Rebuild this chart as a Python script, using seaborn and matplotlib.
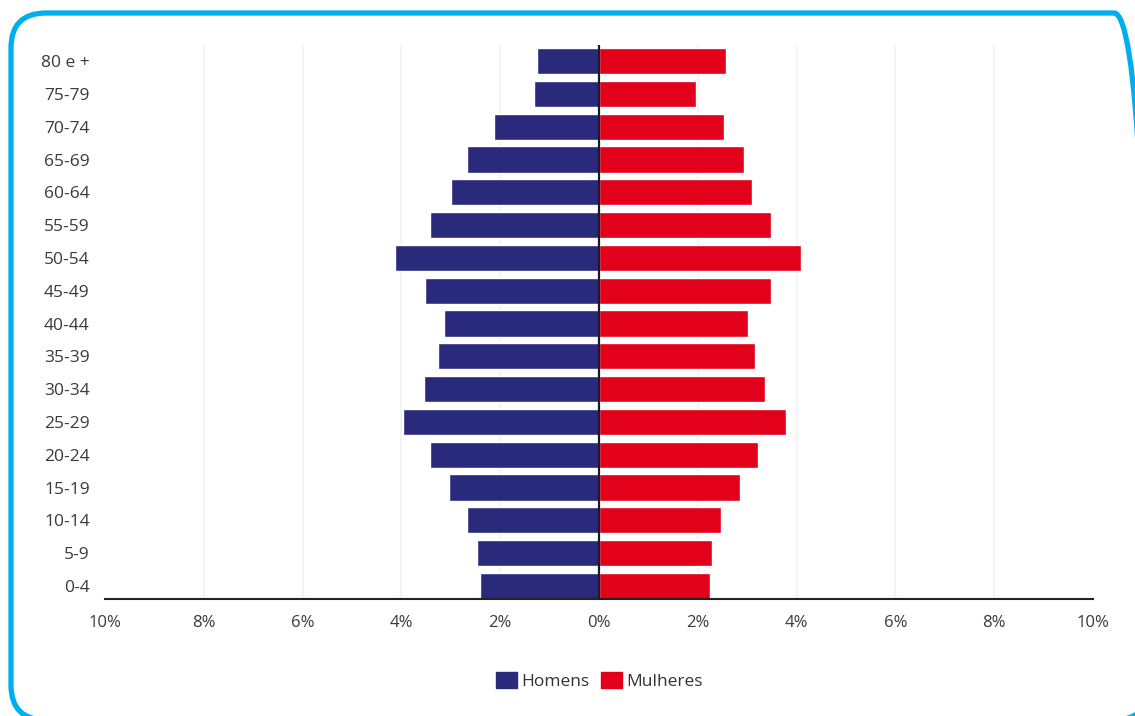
import pandas as pd
import matplotlib
matplotlib.use("Agg")
import matplotlib.pyplot as plt
import matplotlib.patches as mpatches
from matplotlib.ticker import FuncFormatter
import seaborn as sns

# Data (percent of population, read from the pyramid)
ages = ['80 e +', '75-79', '70-74', '65-69', '60-64', '55-59', '50-54', '45-49', '40-44',
        '35-39', '30-34', '25-29', '20-24', '15-19', '10-14', '5-9', '0-4']
homens = [1.26, 1.32, 2.13, 2.67, 3.00, 3.42, 4.13, 3.52, 3.14,
          3.26, 3.54, 3.97, 3.42, 3.04, 2.67, 2.47, 2.41]
mulheres = [2.57, 1.96, 2.53, 2.94, 3.10, 3.48, 4.09, 3.48, 3.02,
            3.16, 3.36, 3.79, 3.22, 2.85, 2.47, 2.29, 2.25]
xticks = [-10, -8, -6, -4, -2, 0, 2, 4, 6, 8, 10]

navy = '#2A2A7C'
red = '#E2001A'

df = pd.concat([
    pd.DataFrame({'idade': ages, 'valor': [-v for v in homens], 'sexo': 'Homens'}),
    pd.DataFrame({'idade': ages, 'valor': mulheres, 'sexo': 'Mulheres'}),
])

sns.set_style('white')
plt.rcParams['font.family'] = ['Open Sans', 'DejaVu Sans']

fig = plt.figure(figsize=(11.35, 7.16), dpi=100)
ax = fig.add_axes([0.0925, 0.1634, 0.8705, 0.7736])

sns.barplot(data=df, y='idade', x='valor', hue='sexo', order=ages, dodge=False,
            palette={'Homens': navy, 'Mulheres': red}, width=0.8, orient='h',
            legend=False, ax=ax, saturation=1)

ax.set_xlim(-10, 10)
ax.set_ylim(len(ages) - 0.6, -0.49)
ax.set_xticks(xticks)
ax.xaxis.set_major_formatter(FuncFormatter(lambda v, p: f'{abs(v):.0f}%'))
ax.set_xlabel('')
ax.set_ylabel('')

# faint vertical grid
for x in xticks:
    if x not in (0, -10, 10):
        ax.axvline(x, color='#f4f4f4', lw=1.5, zorder=0)
ax.axvline(0, color='#1a1a2e', lw=1.6, zorder=3)

for s in ['top', 'right', 'left']:
    ax.spines[s].set_visible(False)
ax.spines['bottom'].set_color('#222222')
ax.spines['bottom'].set_linewidth(1.5)
ax.tick_params(axis='x', direction='inout', length=7, width=1.2, color='#222222',
               labelsize=12, labelcolor='#3a3a3a', pad=8)
ax.tick_params(axis='y', length=0, labelsize=12.5, labelcolor='#3a3a3a', pad=11)

handles = [mpatches.Patch(color=navy, label='Homens'),
           mpatches.Patch(color=red, label='Mulheres')]
fig.legend(handles=handles, loc='center', bbox_to_anchor=(0.528, 0.049), ncol=2,
           frameon=False, fontsize=12.5, handlelength=1.2, handleheight=1.1,
           handletextpad=0.25, columnspacing=0.7, labelcolor='#333333')

# rounded cyan frame
frame = mpatches.FancyBboxPatch((0.11, -0.04), 11.38, 7.07,
                                boxstyle='round,pad=0,rounding_size=0.35',
                                transform=fig.dpi_scale_trans, fill=False,
                                edgecolor='#00AEEF', linewidth=3.8, clip_on=False)
fig.patches.append(frame)

fig.savefig('out.png', dpi=100)
